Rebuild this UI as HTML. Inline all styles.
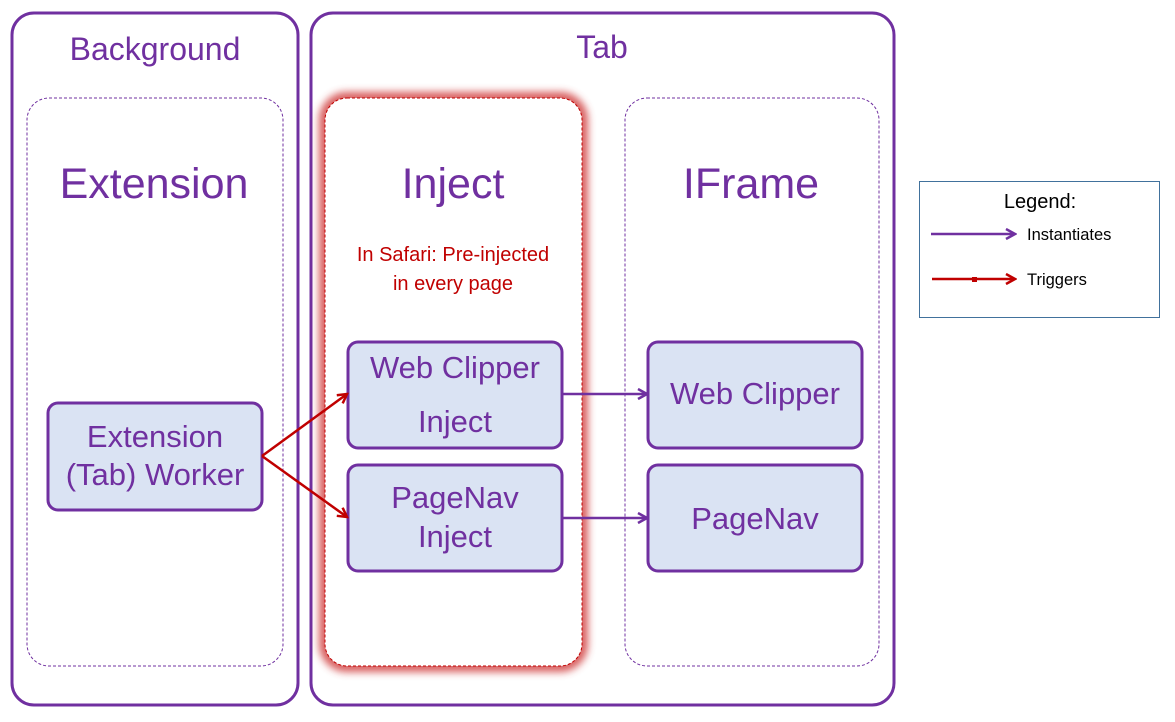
<!DOCTYPE html>
<html><head><meta charset="utf-8"><style>
html,body{margin:0;padding:0;background:#fff;}
svg{display:block;font-family:"Liberation Sans","DejaVu Sans",sans-serif;}
</style></head><body>
<svg width="1175" height="722" viewBox="0 0 1175 722" xmlns="http://www.w3.org/2000/svg">
<defs>
<filter id="glow" x="-20%" y="-20%" width="140%" height="140%"><feGaussianBlur stdDeviation="4"/></filter>
<marker id="ap" markerWidth="12" markerHeight="12" refX="10" refY="6" orient="auto" markerUnits="userSpaceOnUse"><path d="M1,1 L10,6 L1,11" fill="none" stroke="#7030A0" stroke-width="2.5"/></marker>
<marker id="ar" markerWidth="12" markerHeight="12" refX="10" refY="6" orient="auto" markerUnits="userSpaceOnUse"><path d="M1,1 L10,6 L1,11" fill="none" stroke="#C00000" stroke-width="2.5"/></marker>
</defs>
<rect x="12" y="13" width="286" height="692" rx="22" fill="none" stroke="#7030A0" stroke-width="3"/>
<rect x="311" y="13" width="583" height="692" rx="22" fill="none" stroke="#7030A0" stroke-width="3"/>
<text x="155" y="60" font-size="32" fill="#7030A0" text-anchor="middle">Background</text>
<text x="602" y="58" font-size="32" fill="#7030A0" text-anchor="middle">Tab</text>
<rect x="27" y="98" width="256" height="568" rx="22" fill="none" stroke="#7030A0" stroke-width="1" stroke-dasharray="3,2"/>
<rect x="625" y="98" width="254" height="568" rx="22" fill="none" stroke="#7030A0" stroke-width="1" stroke-dasharray="3,2"/>
<rect x="325" y="98" width="257" height="568" rx="22" fill="none" stroke="#D04040" stroke-width="12" filter="url(#glow)" opacity="0.85"/>
<rect x="325" y="98" width="257" height="568" rx="22" fill="#fff" stroke="#C00000" stroke-width="1" stroke-dasharray="3,2"/>
<text x="154" y="198" font-size="43" fill="#7030A0" text-anchor="middle">Extension</text>
<text x="453" y="198" font-size="43" fill="#7030A0" text-anchor="middle">Inject</text>
<text x="751" y="198" font-size="43" fill="#7030A0" text-anchor="middle">IFrame</text>
<text x="453" y="261" font-size="20" fill="#C00000" text-anchor="middle">In Safari: Pre-injected</text>
<text x="453" y="290" font-size="20" fill="#C00000" text-anchor="middle">in every page</text>
<g fill="#DAE3F3" stroke="#7030A0" stroke-width="3">
<rect x="48" y="403" width="214" height="107" rx="10"/>
<rect x="348" y="342" width="214" height="106" rx="10"/>
<rect x="348" y="465" width="214" height="106" rx="10"/>
<rect x="648" y="342" width="214" height="106" rx="10"/>
<rect x="648" y="465" width="214" height="106" rx="10"/>
</g>
<g font-size="31" fill="#7030A0" text-anchor="middle">
<text x="155" y="447">Extension</text>
<text x="155" y="485">(Tab) Worker</text>
<text x="455" y="378">Web Clipper</text>
<text x="455" y="432">Inject</text>
<text x="455" y="508">PageNav</text>
<text x="455" y="547">Inject</text>
<text x="755" y="404">Web Clipper</text>
<text x="755" y="529">PageNav</text>
</g>
<line x1="262" y1="456" x2="347" y2="394" stroke="#C00000" stroke-width="2.5" marker-end="url(#ar)"/>
<line x1="262" y1="456" x2="347" y2="517" stroke="#C00000" stroke-width="2.5" marker-end="url(#ar)"/>
<line x1="563" y1="394" x2="647" y2="394" stroke="#7030A0" stroke-width="2.5" marker-end="url(#ap)"/>
<line x1="563" y1="518" x2="647" y2="518" stroke="#7030A0" stroke-width="2.5" marker-end="url(#ap)"/>
<rect x="919.5" y="181.5" width="240" height="136" fill="#fff" stroke="#41719C" stroke-width="1"/>
<text x="1040" y="208" font-size="20" fill="#000" text-anchor="middle">Legend:</text>
<line x1="931" y1="234" x2="1015" y2="234" stroke="#7030A0" stroke-width="2.5" marker-end="url(#ap)"/>
<text x="1027" y="240" font-size="16.5" fill="#000">Instantiates</text>
<line x1="932" y1="279" x2="1015" y2="279" stroke="#C00000" stroke-width="2.5" marker-end="url(#ar)"/>
<rect x="972" y="277" width="5" height="5" fill="#C00000"/>
<text x="1027" y="285" font-size="16.5" fill="#000">Triggers</text>
</svg>
</body></html>
